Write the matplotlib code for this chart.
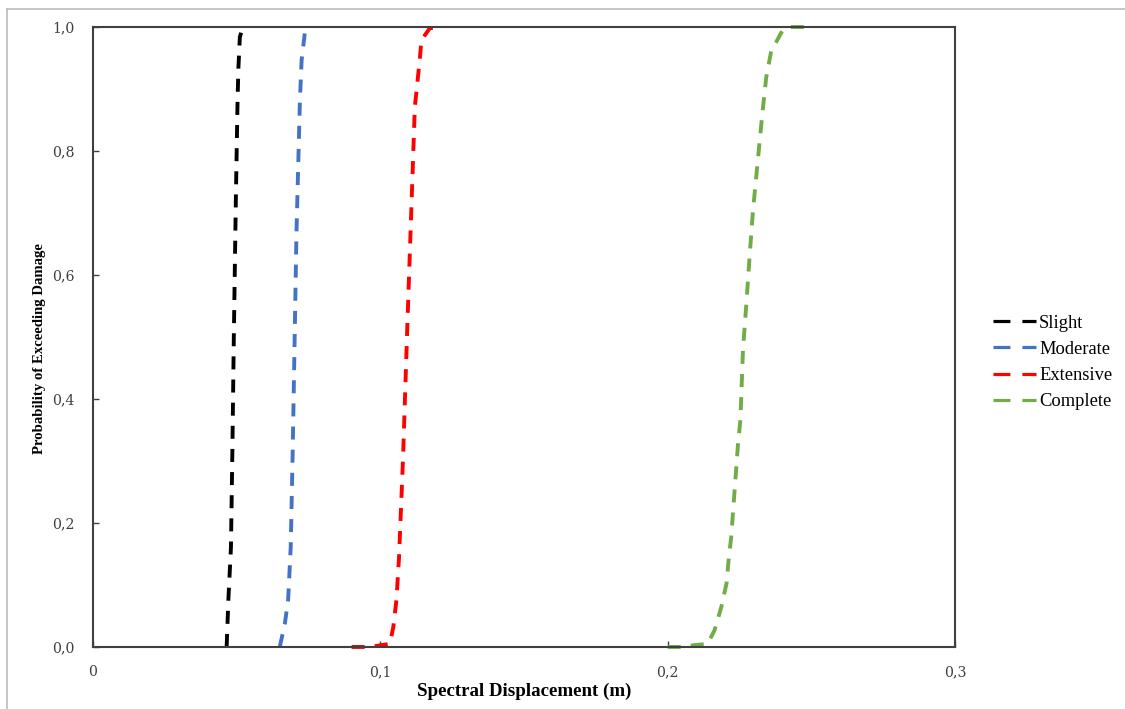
import matplotlib
matplotlib.use('Agg')
import matplotlib.pyplot as plt
from matplotlib.lines import Line2D

# Fragility curves (spectral displacement in m, probability)
slight_x = [0.0465, 0.0471, 0.0480, 0.0485, 0.0490, 0.0497, 0.0503, 0.0506, 0.0511, 0.0522]
slight_y = [0.000, 0.076, 0.161, 0.318, 0.500, 0.721, 0.882, 0.935, 0.984, 1.000]

moderate_x = [0.0650, 0.0668, 0.0679, 0.0688, 0.0695, 0.0702, 0.0708, 0.0720, 0.0726, 0.0737]
moderate_y = [0.000, 0.039, 0.076, 0.161, 0.318, 0.506, 0.668, 0.882, 0.947, 0.990]

extensive_x = [0.0900, 0.0946, 0.0991, 0.1033, 0.1045, 0.1056, 0.1065, 0.1079, 0.1093,
               0.1105, 0.1120, 0.1137, 0.1143, 0.1172, 0.1207]
extensive_y = [0.000, 0.000, 0.002, 0.005, 0.032, 0.076, 0.145, 0.306, 0.506,
               0.668, 0.871, 0.947, 0.979, 0.998, 1.000]

complete_x = [0.2000, 0.2049, 0.2094, 0.2139, 0.2163, 0.2187, 0.2205, 0.2213, 0.2221,
              0.2233, 0.2245, 0.2253, 0.2262, 0.2274, 0.2285, 0.2297, 0.2329, 0.2343,
              0.2361, 0.2378, 0.2400, 0.2424, 0.2494]
complete_y = [0.000, 0.000, 0.003, 0.005, 0.027, 0.065, 0.103, 0.145, 0.177,
              0.253, 0.329, 0.366, 0.479, 0.555, 0.629, 0.705, 0.858, 0.919,
              0.963, 0.976, 0.995, 1.000, 1.000]

labels = ['Slight', 'Moderate', 'Extensive', 'Complete']
colors = ['#000000', '#4472C4', '#FF0000', '#70AD47']

x_ticks = [0, 0.1, 0.2, 0.3]
x_tick_labels = ['0', '0,1', '0,2', '0,3']
y_ticks = [0, 0.2, 0.4, 0.6, 0.8, 1.0]
y_tick_labels = ['0,0', '0,2', '0,4', '0,6', '0,8', '1,0']

serif = ['Liberation Serif', 'DejaVu Serif']
tick_font = ['DejaVu Serif']

fig = plt.figure(figsize=(11.25, 7.09), dpi=100)
ax = fig.add_axes([0.0827, 0.0875, 0.7662, 0.8744])

series = [(slight_x, slight_y), (moderate_x, moderate_y),
          (extensive_x, extensive_y), (complete_x, complete_y)]
for (xs, ys), lab, col in zip(series, labels, colors):
    ax.plot(xs, ys, color=col, linewidth=2.8, linestyle=(0, (3.35, 2.6)),
            label=lab, dash_capstyle='butt', clip_on=False)

ax.set_xlim(0, 0.3)
ax.set_ylim(0, 1.0)
ax.set_xticks(x_ticks)
ax.set_xticklabels(x_tick_labels)
ax.set_yticks(y_ticks)
ax.set_yticklabels(y_tick_labels)
ax.tick_params(direction='in', length=4, width=1, color='#404040', pad=13,
               labelsize=10.2, labelcolor='#404040')
for lbl in ax.get_xticklabels() + ax.get_yticklabels():
    lbl.set_family(tick_font)

for sp in ax.spines.values():
    sp.set_linewidth(1.5)
    sp.set_color('#404040')

ax.set_xlabel('Spectral Displacement (m)', family=serif, fontsize=13.6,
              fontweight='bold', labelpad=3)
ax.set_ylabel('Probability of Exceeding Damage', family=serif, fontsize=10.6,
              fontweight='bold')
ax.yaxis.set_label_coords(-0.054, 0.482)

handles = [Line2D([0], [0], color=c, linewidth=2.3, linestyle=(0, (5.3, 3.75)),
                  dash_capstyle='butt') for c in colors]
ax.legend(handles, labels, loc='center left', bbox_to_anchor=(1.044, 0.459),
          frameon=False, prop={'family': serif, 'size': 13.3},
          handlelength=2.35, handletextpad=0.15, labelspacing=0.5,
          borderpad=0, borderaxespad=0)

# light grey outline on the top and left of the picture
fig.add_artist(Line2D([0.0062, 1.0], [0.987, 0.987], color='#BBBBBB', linewidth=1.2,
                      transform=fig.transFigure))
fig.add_artist(Line2D([0.0062, 0.0062], [0.0, 0.987], color='#BBBBBB', linewidth=1.2,
                      transform=fig.transFigure))

fig.savefig('out.png', dpi=100)
plt.close(fig)
